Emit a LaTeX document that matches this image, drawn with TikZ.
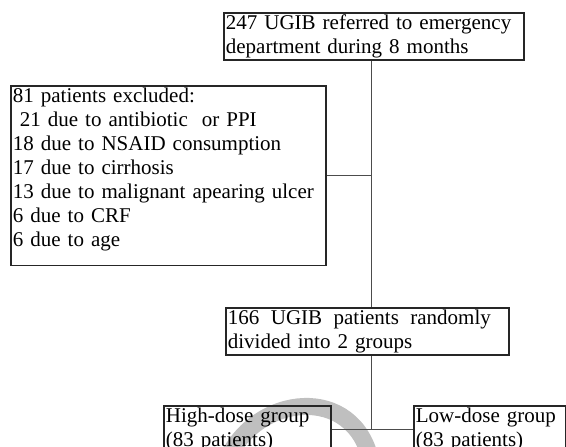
\documentclass[tikz,border=0pt]{standalone}
\usepackage{fontspec}
\setmainfont{Liberation Serif}
\begin{document}
\begin{tikzpicture}[x=1pt,y=1pt,-]
    \tikzstyle{stagebox}=[draw=black!85,line width=1.8pt,inner sep=2pt,align=left,anchor=north west,font=\fontsize{21}{24}\selectfont]
    \tikzstyle{link}=[draw=black!70,line width=1pt]
    \useasboundingbox (0,0) rectangle (566,-447);
    % watermark
    \draw[black!25,line width=17pt] (226,-462) .. controls (255,-393) and (355,-383) .. (371,-462);

    \node[stagebox,text width=296pt,minimum height=47pt] (ref) at (223,-12)
        {247 UGIB referred to emergency\\department during 8 months};
    \node[stagebox,text width=311pt] (excl) at (10,-85)
        {81 patients excluded:\\
         \ 21 due to antibiotic \ or PPI\\
         18 due to NSAID consumption\\
         17 due to cirrhosis\\
         13 due to malignant apearing ulcer\\
         6 due to CRF\\
         6 due to age\rule[-17pt]{0pt}{0pt}};
    \node[stagebox,text width=279pt,minimum height=45pt] (split) at (225,-307)
        {\hbox to 263pt{166\hfill UGIB\hfill patients\hfill randomly}\\divided into 2 groups};
    \node[stagebox,text width=163pt,minimum height=46pt] (high) at (163,-405)
        {High-dose group\\(83 patients)};
    \node[stagebox,text width=148pt,minimum height=46pt] (low) at (413,-405)
        {Low-dose group\\(83 patients)};

    \coordinate (trunk) at (371,0);
    \draw[link] (ref.south -| trunk) -- (split.north -| trunk);
    \draw[link] (excl.east) -- (excl.east -| trunk);
    \draw[link] (split.south -| trunk) -- (high.east -| trunk);
    \draw[link] (high.east) -- (low.west);
\end{tikzpicture}
\end{document}
